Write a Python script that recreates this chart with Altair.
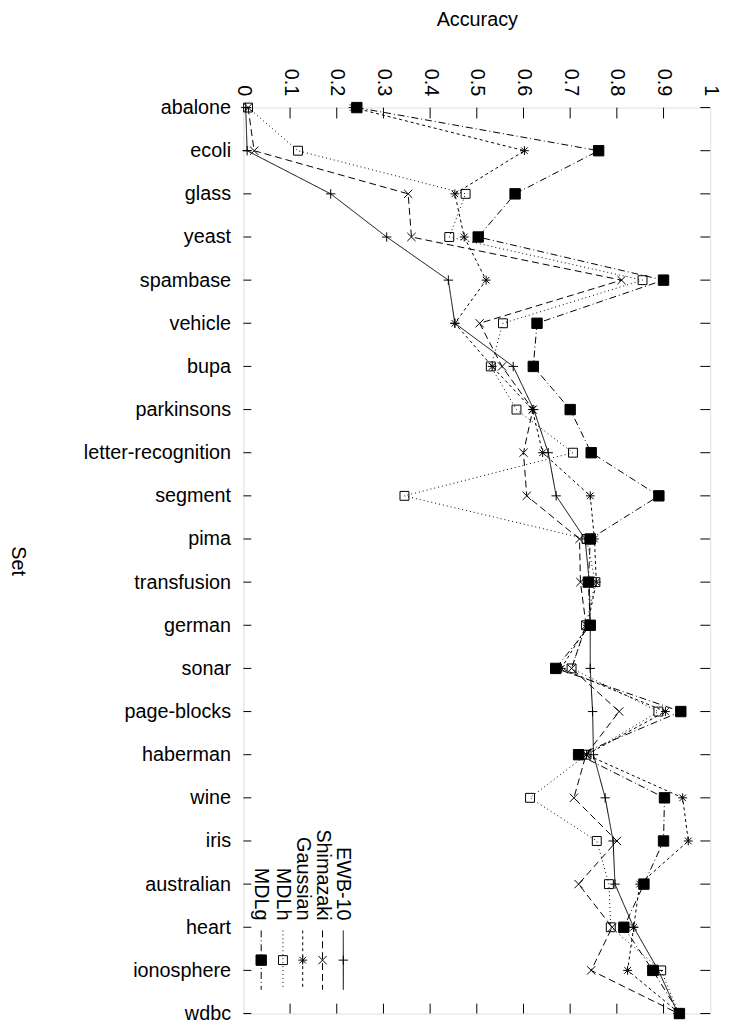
import altair as alt
import pandas as pd

sets = ["abalone", "ecoli", "glass", "yeast", "spambase", "vehicle", "bupa",
        "parkinsons", "letter-recognition", "segment", "pima", "transfusion",
        "german", "sonar", "page-blocks", "haberman", "wine", "iris",
        "australian", "heart", "ionosphere", "wdbc"]

ewb = [0.005, 0.008, 0.187, 0.307, 0.439, 0.453, 0.578, 0.622, 0.653, 0.670, 0.732,
       0.741, 0.743, 0.743, 0.748, 0.750, 0.775, 0.792, 0.796, 0.836, 0.889, 0.931]
shim = [0.010, 0.023, 0.353, 0.360, 0.810, 0.506, 0.554, 0.620, 0.600, 0.607, 0.720,
        0.722, 0.734, 0.703, 0.805, 0.734, 0.708, 0.800, 0.718, 0.790, 0.745, 0.932]
gauss = [0.235, 0.602, 0.453, 0.473, 0.520, 0.453, 0.533, 0.619, 0.641, 0.743, 0.752,
         0.756, 0.737, 0.681, 0.904, 0.735, 0.941, 0.953, 0.849, 0.836, 0.823, 0.935]
mdlh = [0.010, 0.117, 0.476, 0.441, 0.855, 0.556, 0.530, 0.585, 0.706, 0.345, 0.735,
        0.754, 0.734, 0.703, 0.889, 0.735, 0.614, 0.757, 0.783, 0.787, 0.895, 0.933]
mdlg = [0.243, 0.761, 0.582, 0.503, 0.900, 0.629, 0.621, 0.700, 0.745, 0.890, 0.743,
        0.739, 0.743, 0.669, 0.937, 0.718, 0.902, 0.900, 0.858, 0.815, 0.877, 0.934]

series_names = ["EWB-10", "Shimazaki", "Gaussian", "MDLh", "MDLg"]
series_values = [ewb, shim, gauss, mdlh, mdlg]
x_ticks = [0, 0.1, 0.2, 0.3, 0.4, 0.5, 0.6, 0.7, 0.8, 0.9, 1]

W, H = 472, 916
FONT = "Liberation Sans"

PLUS = "M-1,0L1,0M0,-1L0,1"
CROSS = "M-1,-1L1,1M-1,1L1,-1"
STAR = "M-1,0L1,0M0,-1L0,1M-0.75,-0.75L0.75,0.75M-0.75,0.75L0.75,-0.75"

styles = {
    "EWB-10": dict(dash=[1, 0], shape=PLUS, size=90, filled=False),
    "Shimazaki": dict(dash=[7, 4], shape=CROSS, size=70, filled=False),
    "Gaussian": dict(dash=[3, 3], shape=STAR, size=80, filled=False),
    "MDLh": dict(dash=[1, 3], shape="square", size=81, filled=False),
    "MDLg": dict(dash=[7, 3, 1, 3], shape="square", size=110, filled=True),
}

rows = []
for name, vals in zip(series_names, series_values):
    for i, (s, v) in enumerate(zip(sets, vals)):
        rows.append({"series": name, "set": s, "idx": i, "acc": v})
df = pd.DataFrame(rows)

xscale = alt.Scale(domain=[0, 1], nice=False, zero=False)
yscale = alt.Scale(type="point", domain=sets, padding=0)

xenc = alt.X("acc:Q", scale=xscale, axis=alt.Axis(
    orient="top", values=x_ticks, format="~g", labelAngle=90,
    labelAlign="right", labelBaseline="middle", labelPadding=12,
    labelFontSize=20, labelFont=FONT, labelColor="black",
    ticks=False, tickSize=0, domain=False, grid=False,
    title="Accuracy", titleFontSize=20, titleFont=FONT, titleFontWeight="normal",
    titleColor="black", titleX=W / 2, titleY=-83, titleBaseline="alphabetic",
    titleAlign="center"))
yenc = alt.Y("set:N", scale=yscale, sort=sets, axis=alt.Axis(
    orient="left", labelFontSize=20, labelFont=FONT, labelColor="black",
    labelPadding=13, ticks=False, tickSize=0, domain=False, grid=False,
    title="Set", titleFontSize=20, titleFont=FONT, titleFontWeight="normal",
    titleColor="black", titleAngle=90, titleX=-228, titleY=H / 2,
    titleAlign="center", titleBaseline="middle"))

base = alt.Chart(df)
layers = []

# inner tick marks (gnuplot style, mirrored)
xt = pd.DataFrame({"acc": x_ticks[1:-1]})
layers.append(alt.Chart(xt).mark_rule(color="black", strokeWidth=1).encode(
    x=alt.X("acc:Q", scale=xscale), y=alt.value(0), y2=alt.value(11)))
layers.append(alt.Chart(xt).mark_rule(color="black", strokeWidth=1).encode(
    x=alt.X("acc:Q", scale=xscale), y=alt.value(H - 10), y2=alt.value(H)))
yt = pd.DataFrame({"set": sets})
layers.append(alt.Chart(yt).mark_rule(color="black", strokeWidth=1).encode(
    y=alt.Y("set:N", scale=yscale, sort=sets), x=alt.value(0), x2=alt.value(8)))
layers.append(alt.Chart(yt).mark_rule(color="black", strokeWidth=1).encode(
    y=alt.Y("set:N", scale=yscale, sort=sets), x=alt.value(W - 10), x2=alt.value(W)))

first = True
for name in series_names:
    st = styles[name]
    sub = base.transform_filter(alt.datum.series == name)
    if first:
        xe, ye = xenc, yenc
        first = False
    else:
        xe = alt.X("acc:Q", scale=xscale)
        ye = alt.Y("set:N", scale=yscale, sort=sets)
    layers.append(sub.mark_line(color="black", strokeWidth=1, strokeDash=st["dash"]).encode(
        x=xe, y=ye, order=alt.Order("idx:Q")))
    if st["filled"]:
        pt = sub.mark_point(shape=st["shape"], size=st["size"], filled=True,
                            fill="black", stroke="black", strokeWidth=1, opacity=1)
    else:
        pt = sub.mark_point(shape=st["shape"], size=st["size"], filled=False,
                            stroke="black", strokeWidth=1, opacity=1)
    layers.append(pt.encode(x=alt.X("acc:Q", scale=xscale),
                            y=alt.Y("set:N", scale=yscale, sort=sets)))

# legend (rotated, inside plot, bottom-left)
leg_x = {"EWB-10": 101, "Shimazaki": 80, "Gaussian": 60, "MDLh": 40, "MDLg": 18}
leg_df = pd.DataFrame({"k": [0]})
for name in series_names:
    st = styles[name]
    lx = leg_x[name]
    layers.append(alt.Chart(leg_df).mark_rule(color="black", strokeWidth=1,
                                              strokeDash=st["dash"]).encode(
        x=alt.value(lx), y=alt.value(832), y2=alt.value(892)))
    if st["filled"]:
        pt = alt.Chart(leg_df).mark_point(shape=st["shape"], size=st["size"], filled=True,
                                          fill="black", stroke="black", strokeWidth=1, opacity=1)
    else:
        pt = alt.Chart(leg_df).mark_point(shape=st["shape"], size=st["size"], filled=False,
                                          stroke="black", strokeWidth=1, opacity=1)
    layers.append(pt.encode(x=alt.value(lx), y=alt.value(862)))
    layers.append(alt.Chart(leg_df).mark_text(
        text=name, angle=90, align="right", baseline="middle", fontSize=20,
        font=FONT, color="black").encode(x=alt.value(lx), y=alt.value(822)))

chart = alt.layer(*layers).properties(
    width=W, height=H,
    autosize=alt.AutoSizeParams(type="none"),
    padding={"left": 238, "top": 95, "right": 20, "bottom": 14},
).configure_view(stroke="black", strokeWidth=1.5).configure(background="white")

chart.save("out.html", embed_options={"renderer": "svg", "actions": False})
